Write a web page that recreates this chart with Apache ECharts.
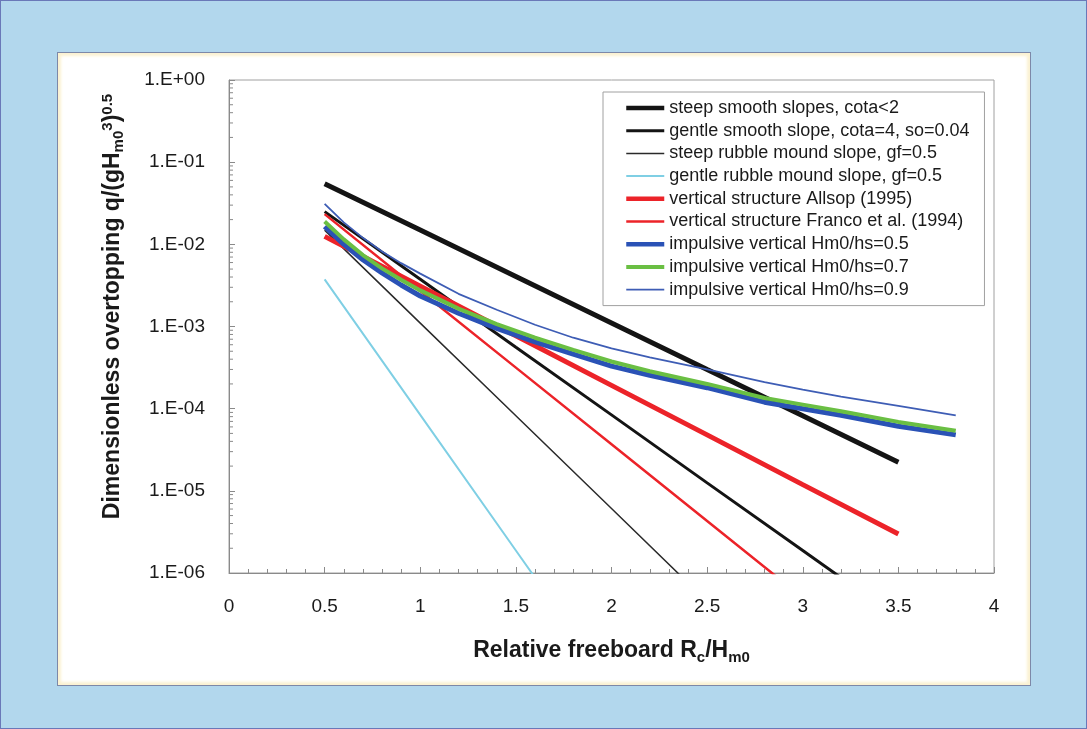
<!DOCTYPE html>
<html>
<head>
<meta charset="utf-8">
<script src="https://cdn.jsdelivr.net/npm/echarts@6/dist/echarts.min.js"></script>
<style>
  html, body { margin: 0; padding: 0; }
  body { width: 1087px; height: 729px; background: #b2d7ed; position: relative; overflow: hidden; }
  #frame { position: absolute; left: 0; top: 0; width: 1085px; height: 727px; border: 1px solid #6a78b8; }
  #panel { position: absolute; left: 57px; top: 52px; width: 972px; height: 632px; background: #ffffff;
           border: 1px solid #7d88a8; box-shadow: inset 0 0 3px 3px #fbf2d2; }
  #chart { position: absolute; left: 0; top: 0; width: 1087px; height: 729px; }
</style>
</head>
<body>
<div id="frame"></div>
<div id="panel"></div>
<div id="chart"></div>
<script>
// ---- data ----
const xStd = [0.5, 1.0, 1.5, 2.0, 2.5, 3.0, 3.5];
const steepSmooth  = [5.45e-2, 1.49e-2, 4.05e-3, 1.10e-3, 3.0e-4, 8.2e-5, 2.23e-5];
const gentleSmooth = [2.5e-2, 3.75e-3, 5.6e-4, 8.4e-5, 1.25e-5, 1.88e-6, 2.8e-7];
const steepRubble  = [1.49e-2, 1.10e-3, 8.2e-5, 6.1e-6, 4.5e-7];
const gentleRubble = [3.75e-3, 8.4e-5, 1.88e-6, 4.2e-8];
const allsop       = [1.25e-2, 3.1e-3, 7.7e-4, 1.92e-4, 4.8e-5, 1.19e-5, 2.98e-6];
const franco       = [2.33e-2, 2.71e-3, 3.16e-4, 3.68e-5, 4.3e-6, 5.0e-7];

const xImp  = [0.5, 0.6, 0.7, 0.8, 0.9, 1.0, 1.2, 1.4, 1.6, 1.8, 2.0, 2.2, 2.5, 2.8, 3.0, 3.2, 3.5, 3.8];
const imp05 = [1.65e-2, 1.0e-2, 6.5e-3, 4.5e-3, 3.2e-3, 2.35e-3, 1.45e-3, 9.5e-4, 6.5e-4, 4.6e-4, 3.3e-4, 2.55e-4, 1.8e-4, 1.2e-4, 1.0e-4, 8.3e-5, 6.1e-5, 4.8e-5];
const imp07 = [1.9e-2, 1.15e-2, 7.4e-3, 5.1e-3, 3.7e-3, 2.75e-3, 1.65e-3, 1.07e-3, 7.3e-4, 5.2e-4, 3.75e-4, 2.85e-4, 2.0e-4, 1.35e-4, 1.12e-4, 9.3e-5, 6.9e-5, 5.4e-5];
const imp09 = [3.1e-2, 1.85e-2, 1.2e-2, 8.2e-3, 5.9e-3, 4.4e-3, 2.5e-3, 1.6e-3, 1.05e-3, 7.3e-4, 5.4e-4, 4.2e-4, 3.0e-4, 2.1e-4, 1.7e-4, 1.4e-4, 1.08e-4, 8.3e-5];

const seriesNames = [
  'steep smooth slopes, cota<2',
  'gentle smooth slope, cota=4, so=0.04',
  'steep rubble mound slope, gf=0.5',
  'gentle rubble mound slope, gf=0.5',
  'vertical structure Allsop (1995)',
  'vertical structure Franco et al. (1994)',
  'impulsive vertical Hm0/hs=0.5',
  'impulsive vertical Hm0/hs=0.7',
  'impulsive vertical Hm0/hs=0.9'
];
const seriesColors = ['#141414', '#141414', '#2a2a2a', '#7fcfe4', '#ec2329', '#ec2329', '#2a52b6', '#6abf43', '#3e5db5'];
const seriesWidths = [5, 3, 1.5, 2, 5, 2.5, 5, 4, 1.8];
const yDecades = [-6, -5, -4, -3, -2, -1, 0];
const minorMult = [2, 3, 4, 5, 6, 7, 8, 9];

function zip(xs, ys) { return ys.map((y, i) => [xs[i], y]); }

const minorTickData = [];
yDecades.slice(0, -1).forEach(d => minorMult.forEach(m => minorTickData.push([0, m * Math.pow(10, d)])));

const FONT = 'Liberation Sans, Arial, sans-serif';
const chart = echarts.init(document.getElementById('chart'), null, { renderer: 'canvas' });

function line(i, xs, ys) {
  const color = seriesColors[i];
  return { name: seriesNames[i], type: 'line', data: zip(xs, ys), showSymbol: false, symbol: 'none', clip: true,
           lineStyle: { color, width: seriesWidths[i] }, itemStyle: { color }, animation: false };
}

chart.setOption({
  animation: false,
  grid: { left: 229, right: 93, top: 80, bottom: 156, show: true, borderColor: '#a0a0a0', borderWidth: 1 },
  legend: {
    data: seriesNames.map((n, i) => ({ name: n, lineStyle: { color: seriesColors[i], width: Math.min(seriesWidths[i], 4.5) } })),
    orient: 'vertical',
    left: 603, top: 92,
    padding: [6, 15, 6, 21],
    itemWidth: 38, itemHeight: 14, itemGap: 2.7,
    backgroundColor: '#ffffff',
    borderColor: '#a0a0a0', borderWidth: 1, borderRadius: 0,
    itemStyle: { opacity: 0, borderWidth: 0 },
    textStyle: { fontFamily: FONT, fontSize: 18, color: '#1a1a1a', lineHeight: 20 }
  },
  xAxis: {
    type: 'value', min: 0, max: 4, interval: 0.5,
    axisLine: { show: true, lineStyle: { color: '#8a8a8a', width: 1 } },
    axisTick: { show: true, inside: true, length: 6, lineStyle: { color: '#8a8a8a' } },
    minorTick: { show: true, splitNumber: 5, length: 4, lineStyle: { color: '#8a8a8a' } },
    splitLine: { show: false },
    axisLabel: { fontFamily: FONT, fontSize: 19, color: '#1a1a1a', margin: 24,
                 formatter: v => String(v) },
    name: '{b|Relative freeboard R}{bs|c}{b|/H}{bs|m0}',
    nameLocation: 'middle', nameGap: 64,
    nameTextStyle: {
      rich: {
        b:  { fontFamily: FONT, fontSize: 23, fontWeight: 'bold', color: '#1a1a1a', lineHeight: 28 },
        bs: { fontFamily: FONT, fontSize: 15, fontWeight: 'bold', color: '#1a1a1a', lineHeight: 16, verticalAlign: 'bottom' }
      }
    }
  },
  yAxis: {
    type: 'log', logBase: 10, min: 1e-6, max: 1,
    axisLine: { show: true, lineStyle: { color: '#8a8a8a', width: 1 } },
    axisTick: { show: true, inside: true, length: 6, lineStyle: { color: '#8a8a8a' } },
    minorTick: { show: false },
    splitLine: { show: false },
    axisLabel: {
      fontFamily: FONT, fontSize: 19, color: '#1a1a1a', margin: 24,
      formatter: v => { const e = Math.round(Math.log10(v)); const a = Math.abs(e);
        return '1.E' + (e < 0 ? '-' : '+') + (a < 10 ? '0' : '') + a; }
    },
    name: '{b|Dimensionless overtopping q/(gH}{bs|m0}{bp|3}{b|)}{bp|0.5}',
    nameLocation: 'middle', nameRotate: 90, nameGap: 103,
    nameTextStyle: {
      padding: [0, 0, 0, 40],
      rich: {
        b:  { fontFamily: FONT, fontSize: 23, fontWeight: 'bold', color: '#1a1a1a', lineHeight: 26 },
        bs: { fontFamily: FONT, fontSize: 15, fontWeight: 'bold', color: '#1a1a1a', lineHeight: 15, verticalAlign: 'bottom' },
        bp: { fontFamily: FONT, fontSize: 15, fontWeight: 'bold', color: '#1a1a1a', lineHeight: 15, verticalAlign: 'top' }
      }
    }
  },
  series: [
    {
      type: 'custom', name: 'minor', silent: true, z: 1,
      data: minorTickData,
      renderItem: (params, api) => {
        const p = api.coord([api.value(0), api.value(1)]);
        return { type: 'line', shape: { x1: p[0], y1: p[1], x2: p[0] + 4, y2: p[1] },
                 style: { stroke: '#8a8a8a', lineWidth: 1 } };
      }
    },
    line(0, xStd, steepSmooth),
    line(1, xStd, gentleSmooth),
    line(2, xStd, steepRubble),
    line(3, xStd, gentleRubble),
    line(4, xStd, allsop),
    line(5, xStd, franco),
    line(6, xImp, imp05),
    line(7, xImp, imp07),
    line(8, xImp, imp09)
  ]
});
</script>
</body>
</html>
